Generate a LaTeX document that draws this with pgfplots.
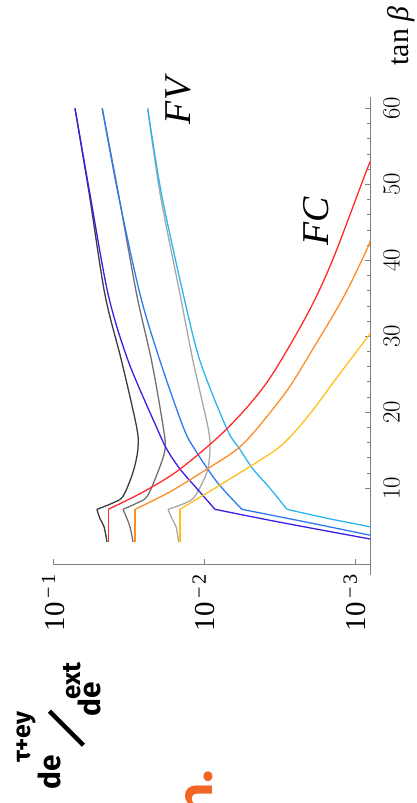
\documentclass[border=0pt]{standalone}
\usepackage{pgfplots}
\pgfplotsset{compat=1.18}
\usepackage{fontspec}
\setmainfont{Liberation Serif}
\newfontfamily\handfont{Fira Sans}
\newfontfamily\nfont{Poppins}
\definecolor{cblack}{HTML}{3C3C3C}
\definecolor{cgray}{HTML}{707070}
\definecolor{clgray}{HTML}{A8A8A8}
\definecolor{cdblue}{HTML}{3A1EE6}
\definecolor{cmblue}{HTML}{2E78F0}
\definecolor{ccyan}{HTML}{2BB5EF}
\definecolor{cred}{HTML}{FF2A2A}
\definecolor{corange}{HTML}{FF8C26}
\definecolor{cyellow}{HTML}{FFBF1F}
\definecolor{norange}{HTML}{F26522}
\begin{document}
\begin{tikzpicture}
\path[use as bounding box] (-53bp,-239bp) rectangle (364bp,564bp);
\begin{axis}[
  at={(0,0)}, anchor=south west,
  scale only axis, width=317bp, height=467bp,
  xmode=log, x dir=reverse, xmin=7.94e-4, xmax=0.1,
  ymin=0, ymax=61.5,
  axis x line*=bottom, axis y line*=right,
  axis line style={color=gray, line width=0.7bp},
  y axis line style={shorten <=-11bp},
  every tick/.style={color=gray, line width=0.6bp},
  tick align=inside,
  major tick length=5bp, minor tick length=3bp,
  xtick={0.001,0.01,0.1},
  xticklabels={10\textsuperscript{\,−\,3},10\textsuperscript{\,−\,2},10\textsuperscript{\,−\,1}},
  xminorticks=false,
  ytick={10,20,30,40,50,60},
  minor y tick num=4,
  ticklabel style={font=\fontsize{29}{31}\selectfont},
  xticklabel style={rotate=90, anchor=east},
  yticklabel style={rotate=90, anchor=north},
  yticklabel shift=10bp,
  xticklabel shift=6bp,
  clip=true,
  every axis plot/.append style={line width=1.3bp, no markers},
]
% grays
\addplot[cblack, smooth] coordinates {(0.0715,60) (0.0575,48.7) (0.0453,35.5) (0.0351,26.7) (0.0279,18) (0.0274,15.1) (0.0295,12.1) (0.0344,8.9) (0.0406,8.0) (0.0512,7.2)};
\addplot[cblack, smooth] coordinates {(0.0512,7.2) (0.0489,6.0) (0.0459,4.9) (0.0439,2.9)};
\addplot[cgray, smooth] coordinates {(0.0472,60) (0.0368,48.7) (0.0279,35.5) (0.0222,26.7) (0.0186,18) (0.0181,15.1) (0.0202,12.1) (0.0238,8.9) (0.0280,8.0) (0.0344,7.2)};
\addplot[cgray, smooth] coordinates {(0.0344,7.2) (0.0324,6.0) (0.0309,4.9) (0.0295,2.9)};
\addplot[clgray, smooth] coordinates {(0.0236,60) (0.0195,48.7) (0.0144,35.5) (0.0118,26.7) (0.0094,18) (0.00912,15.1) (0.00955,12.1) (0.0115,8.9) (0.0134,8.0) (0.0173,7.2)};
\addplot[clgray, smooth] coordinates {(0.0173,7.2) (0.0163,6.0) (0.0153,4.9) (0.0147,2.9)};
% blues
\addplot[cdblue, smooth] coordinates {(0.0715,60) (0.0569,48.7) (0.0431,35.5) (0.0317,26.7) (0.0206,18) (0.0176,15.1) (0.0144,12.5) (0.0111,9.9) (0.00845,7.2)};
\addplot[cdblue, smooth] coordinates {(0.00845,7.2) (0.00314,5.5) (0.000796,3.3) (0.00060,2.9)};
\addplot[cmblue, smooth] coordinates {(0.0472,60) (0.0370,48.7) (0.0265,35.5) (0.0195,26.7) (0.0137,18) (0.0115,15.1) (0.0082,10.8) (0.0056,7.2)};
\addplot[cmblue, smooth] coordinates {(0.0056,7.2) (0.00208,5.5) (0.000796,3.8) (0.00048,2.9)};
\addplot[ccyan, smooth] coordinates {(0.0236,60) (0.0191,48.7) (0.0137,35.5) (0.0106,26.7) (0.00705,17.8) (0.00578,15.1) (0.00473,12.5) (0.00366,10) (0.00282,7.2)};
\addplot[ccyan, smooth] coordinates {(0.00282,7.2) (0.00151,6.0) (0.000796,4.9) (0.00026,2.9)};
% reds
\addplot[cred, smooth] coordinates {(0.00072,54) (0.000796,52.9) (0.00140,40.1) (0.00209,32.7) (0.00383,23.9) (0.00705,17.8) (0.0144,12.5) (0.0252,9.5) (0.0431,7.2)};
\addplot[cred] coordinates {(0.0431,7.2) (0.0431,2.9)};
\addplot[corange, smooth] coordinates {(0.00075,44) (0.000834,41.4) (0.00120,35) (0.00190,28.3) (0.00278,23) (0.00446,17.8) (0.00604,15.1) (0.00955,12.5) (0.0168,9.5) (0.0286,7.2)};
\addplot[corange] coordinates {(0.0286,7.2) (0.0286,2.9)};
\addplot[cyellow, smooth] coordinates {(0.00072,31.5) (0.000796,30.3) (0.00138,24) (0.00178,21) (0.00240,17.8) (0.00331,15.1) (0.00673,11.2) (0.0144,7.2)};
\addplot[cyellow] coordinates {(0.0144,7.2) (0.0144,2.9)};
\end{axis}
\node[rotate=90, font=\fontsize{38}{40}\selectfont\itshape] at (125bp,463bp) {FV};
\node[rotate=90, font=\fontsize{38}{40}\selectfont\itshape] at (263.5bp,342.5bp) {FC};
\node[rotate=90, font=\fontsize{30}{32}\selectfont] at (348bp,528bp) {tan \textit{β}};
\node[rotate=90, anchor=base west, inner sep=0pt, font=\fontsize{30}{30}\selectfont\handfont\bfseries] at (7bp,-226bp)
 {\makebox[0pt][l]{de}%
  \makebox[0pt][l]{\hspace{27bp}\raisebox{30bp}{\fontsize{25}{25}\selectfont τ+ey}}%
  \makebox[0pt][l]{\hspace{43bp}\raisebox{-25bp}{\rotatebox{45}{\rule{48bp}{4.5bp}}}}%
  \makebox[0pt][l]{\hspace{73bp}\raisebox{-40bp}{de}}%
  \hspace{90bp}\raisebox{-20bp}{\fontsize{26}{26}\selectfont ext}};
\node[rotate=90, anchor=base east, inner sep=0pt, text=norange, font=\fontsize{48}{50}\selectfont\nfont\bfseries] at (159bp,-206bp) {n.};
\end{tikzpicture}
\end{document}
